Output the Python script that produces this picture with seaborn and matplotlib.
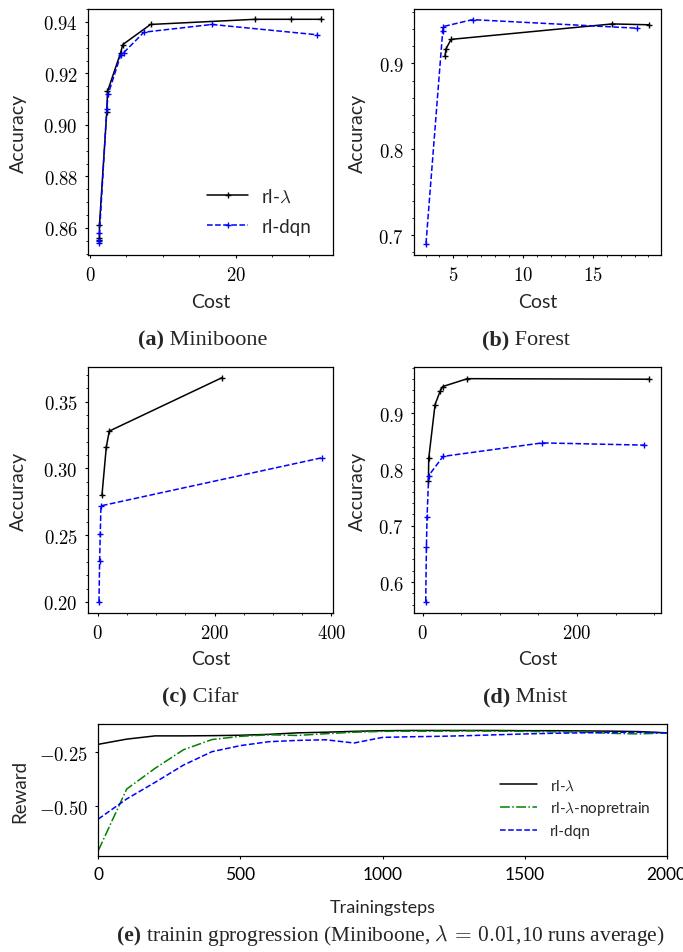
import numpy as np
import pandas as pd
import matplotlib
matplotlib.use("Agg")
import matplotlib.pyplot as plt
import seaborn as sns
from matplotlib.ticker import MultipleLocator, FuncFormatter

# ---------------- data ----------------
mb_lam_cost = [1.3, 1.3, 1.3, 2.3, 2.4, 4.2, 4.5, 8.3, 22.6, 27.5, 31.7]
mb_lam_acc = [0.8553, 0.8560, 0.8612, 0.9050, 0.9130, 0.9280, 0.9312, 0.9390, 0.9410, 0.9410, 0.9410]
mb_dqn_cost = [1.3, 1.3, 1.3, 2.3, 2.5, 4.2, 4.6, 7.4, 16.7, 31.1]
mb_dqn_acc = [0.8540, 0.8548, 0.8580, 0.9060, 0.9120, 0.9270, 0.9280, 0.9360, 0.9390, 0.9350]

fo_lam_cost = [4.4, 4.47, 4.83, 16.4, 19.07]
fo_lam_acc = [0.909, 0.917, 0.928, 0.946, 0.945]
fo_dqn_cost = [3.03, 4.23, 4.28, 6.37, 18.2]
fo_dqn_acc = [0.690, 0.9377, 0.943, 0.951, 0.941]

ci_lam_cost = [7.4, 14.8, 19.9, 212.8]
ci_lam_acc = [0.280, 0.316, 0.328, 0.368]
ci_dqn_cost = [2.3, 3.4, 4.5, 5.7, 383.5]
ci_dqn_acc = [0.200, 0.231, 0.251, 0.272, 0.308]

mn_lam_cost = [7.4, 7.8, 16.0, 22.5, 26.0, 58.0, 294.0]
mn_lam_acc = [0.780, 0.8195, 0.915, 0.9385, 0.947, 0.961, 0.960]
mn_dqn_cost = [3.9, 4.8, 5.6, 7.8, 26.4, 155.0, 287.0]
mn_dqn_acc = [0.565, 0.662, 0.715, 0.789, 0.823, 0.847, 0.843]

steps = [0, 100, 200, 300, 400, 500, 600, 700, 800, 900, 1000,
         1100, 1200, 1300, 1400, 1500, 1600, 1700, 1800, 1900, 2000]
rw_lam = [-0.213, -0.189, -0.174, -0.174, -0.173, -0.171, -0.167, -0.160, -0.157, -0.153, -0.150,
          -0.149, -0.149, -0.149, -0.149, -0.150, -0.150, -0.151, -0.152, -0.154, -0.160]
rw_nopre = [-0.705, -0.420, -0.324, -0.238, -0.191, -0.176, -0.169, -0.172, -0.164, -0.157, -0.153,
            -0.152, -0.152, -0.151, -0.152, -0.153, -0.155, -0.156, -0.162, -0.165, -0.160]
rw_dqn = [-0.559, -0.466, -0.389, -0.309, -0.247, -0.219, -0.201, -0.195, -0.192, -0.207, -0.181,
          -0.178, -0.176, -0.173, -0.169, -0.165, -0.162, -0.160, -0.158, -0.157, -0.160]

lab_lam = r"rl-$\lambda$"
lab_nopre = r"rl-$\lambda$-nopretrain"
lab_dqn = "rl-dqn"

# ---------------- style ----------------
sns.set_theme(style="ticks")
plt.rcParams["font.family"] = ["Lato", "DejaVu Sans"]
plt.rcParams["mathtext.fontset"] = "cm"
plt.rcParams["axes.edgecolor"] = "black"
plt.rcParams["axes.linewidth"] = 0.9

W, H = 683, 953
fig = plt.figure(figsize=(W / 100, H / 100), dpi=100)


def add_ax(l, r, t, b):
    return fig.add_axes([l / W, 1 - b / H, (r - l) / W, (b - t) / H])


def math_fmt(decimals):
    def f(v, pos):
        return "$" + f"{v:.{decimals}f}" + "$"
    return FuncFormatter(f)


def style_ax(ax, ymaj, ymin, xmaj, xmin, ydec, xdec=0):
    ax.yaxis.set_major_locator(MultipleLocator(ymaj))
    ax.xaxis.set_major_locator(MultipleLocator(xmaj))
    if ymin:
        ax.yaxis.set_minor_locator(MultipleLocator(ymin))
    if xmin:
        ax.xaxis.set_minor_locator(MultipleLocator(xmin))
    ax.yaxis.set_major_formatter(math_fmt(ydec))
    ax.xaxis.set_major_formatter(math_fmt(xdec))
    ax.tick_params(which="major", direction="out", length=2.2, width=0.8, pad=5,
                   labelsize=13.5, colors="black")
    ax.tick_params(which="minor", direction="out", length=1.6, width=0.7)
    for s in ax.spines.values():
        s.set_visible(True)
        s.set_color("black")
        s.set_linewidth(0.9)


def plot_pair(ax, xl, yl, xd, yd):
    d1 = pd.DataFrame({"Cost": xl, "Accuracy": yl})
    d2 = pd.DataFrame({"Cost": xd, "Accuracy": yd})
    sns.lineplot(data=d1, x="Cost", y="Accuracy", ax=ax, estimator=None, sort=False,
                 color="black", lw=1.1, marker="+", markersize=5, mew=1.0, mec="black",
                 label=lab_lam)
    sns.lineplot(data=d2, x="Cost", y="Accuracy", ax=ax, estimator=None, sort=False,
                 color="blue", lw=1.1, ls="--", marker="+", markersize=5, mew=1.0, mec="blue",
                 label=lab_dqn)


def labels(ax, ylx, xly, l, r, t, b):
    ax.set_xlabel("Cost", fontsize=14)
    ax.set_ylabel("Accuracy", fontsize=14)
    ax.yaxis.set_label_coords((ylx + 10 - l) / (r - l), 0.5)
    ax.xaxis.set_label_coords(0.5, -(xly - 9 - b) / (b - t))


# (a) Miniboone
ax1 = add_ax(88, 333, 10, 256)
plot_pair(ax1, mb_lam_cost, mb_lam_acc, mb_dqn_cost, mb_dqn_acc)
ax1.set_xlim(-0.27, 33.3)
ax1.set_ylim(0.8495, 0.945)
style_ax(ax1, 0.02, 0.005, 20, 5, 2)
labels(ax1, 17, 303, 88, 333, 10, 256)
ax1.legend(loc="center left", bbox_to_anchor=((207 - 88) / 245, 1 - (212 - 10) / 246),
           frameon=False, fontsize=13.5, handlelength=2.2, handletextpad=0.7,
           labelspacing=0.7, borderpad=0, borderaxespad=0)

# (b) Forest
ax2 = add_ax(414, 661, 10, 256)
plot_pair(ax2, fo_lam_cost, fo_lam_acc, fo_dqn_cost, fo_dqn_acc)
ax2.set_xlim(2.17, 19.9)
ax2.set_ylim(0.6767, 0.9634)
style_ax(ax2, 0.1, 0.02, 5, 1, 1)
labels(ax2, 356, 303, 414, 661, 10, 256)
ax2.get_legend().remove()

# (c) Cifar
ax3 = add_ax(88, 333, 368, 614)
plot_pair(ax3, ci_lam_cost, ci_lam_acc, ci_dqn_cost, ci_dqn_acc)
ax3.set_xlim(-16.5, 402.8)
ax3.set_ylim(0.19175, 0.376)
style_ax(ax3, 0.05, 0.01, 200, 50, 2)
labels(ax3, 17, 660, 88, 333, 368, 614)
ax3.get_legend().remove()

# (d) Mnist
ax4 = add_ax(414, 661, 368, 614)
plot_pair(ax4, mn_lam_cost, mn_lam_acc, mn_dqn_cost, mn_dqn_acc)
ax4.set_xlim(-11.3, 309)
ax4.set_ylim(0.545, 0.9817)
style_ax(ax4, 0.1, 0.02, 200, 50, 1)
labels(ax4, 356, 660, 414, 661, 368, 614)
ax4.get_legend().remove()

# (e) training progression
ax5 = add_ax(98.3, 666.7, 724.7, 857.3)
de = pd.DataFrame({"Trainingsteps": steps, "lam": rw_lam, "nopre": rw_nopre, "dqn": rw_dqn})
sns.lineplot(data=de, x="Trainingsteps", y="lam", ax=ax5, color="black", lw=1.1, label=lab_lam)
sns.lineplot(data=de, x="Trainingsteps", y="nopre", ax=ax5, color="green", lw=1.1, ls="-.",
             label=lab_nopre)
sns.lineplot(data=de, x="Trainingsteps", y="dqn", ax=ax5, color="blue", lw=1.1, ls="--",
             label=lab_dqn)
ax5.set_xlim(0, 2000)
ax5.set_ylim(-0.7315, -0.1176)
ax5.xaxis.set_major_locator(MultipleLocator(500))
ax5.yaxis.set_major_locator(MultipleLocator(0.25))
ax5.yaxis.set_major_formatter(math_fmt(2))
ax5.xaxis.set_major_formatter(FuncFormatter(lambda v, p: f"{int(round(v))}"))
ax5.tick_params(which="major", direction="out", length=2.2, width=0.8, pad=5, colors="black")
ax5.tick_params(axis="y", labelsize=13.5)
ax5.tick_params(axis="x", labelsize=12.5)
for s in ax5.spines.values():
    s.set_visible(True)
    s.set_color("black")
    s.set_linewidth(0.9)
ax5.set_xlabel("Trainingsteps", fontsize=13)
ax5.set_ylabel("Reward", fontsize=13.5)
ax5.yaxis.set_label_coords((28 - 98.3) / 568.4, 0.5)
ax5.xaxis.set_label_coords(0.5, -(900 - 857.3) / 132.6)
ax5.legend(loc="center left", bbox_to_anchor=((500 - 98.3) / 568.4, 1 - (809 - 724.7) / 132.6),
           frameon=False, fontsize=11, handlelength=2.4, handletextpad=0.85,
           labelspacing=0.45, borderpad=0, borderaxespad=0)

# ---------------- captions ----------------
fig.canvas.draw()
renderer = fig.canvas.get_renderer()


def caption(cx, base_y, tag, rest, fs):
    y = 1 - base_y / H
    t1 = fig.text(0, y, tag, fontsize=fs, fontweight="bold",
                  family=["Liberation Serif"], va="baseline", ha="left")
    t2 = fig.text(0, y, " " + rest, fontsize=fs, family=["Liberation Serif"],
                  va="baseline", ha="left")
    w1 = t1.get_window_extent(renderer).width
    w2 = t2.get_window_extent(renderer).width
    x0 = cx - (w1 + w2) / 2
    t1.set_x(x0 / W)
    t2.set_x((x0 + w1) / W)


caption(203, 345, "(a)", "Miniboone", 16)
caption(526, 345, "(b)", "Forest", 16)
caption(200, 702, "(c)", "Cifar", 16)
caption(525, 702, "(d)", "Mnist", 16)
caption(391, 941, "(e)", r"trainin gprogression (Miniboone, $\lambda\,=\,0.01$,10 runs average)", 15.4)

fig.savefig("out.png", dpi=100)
